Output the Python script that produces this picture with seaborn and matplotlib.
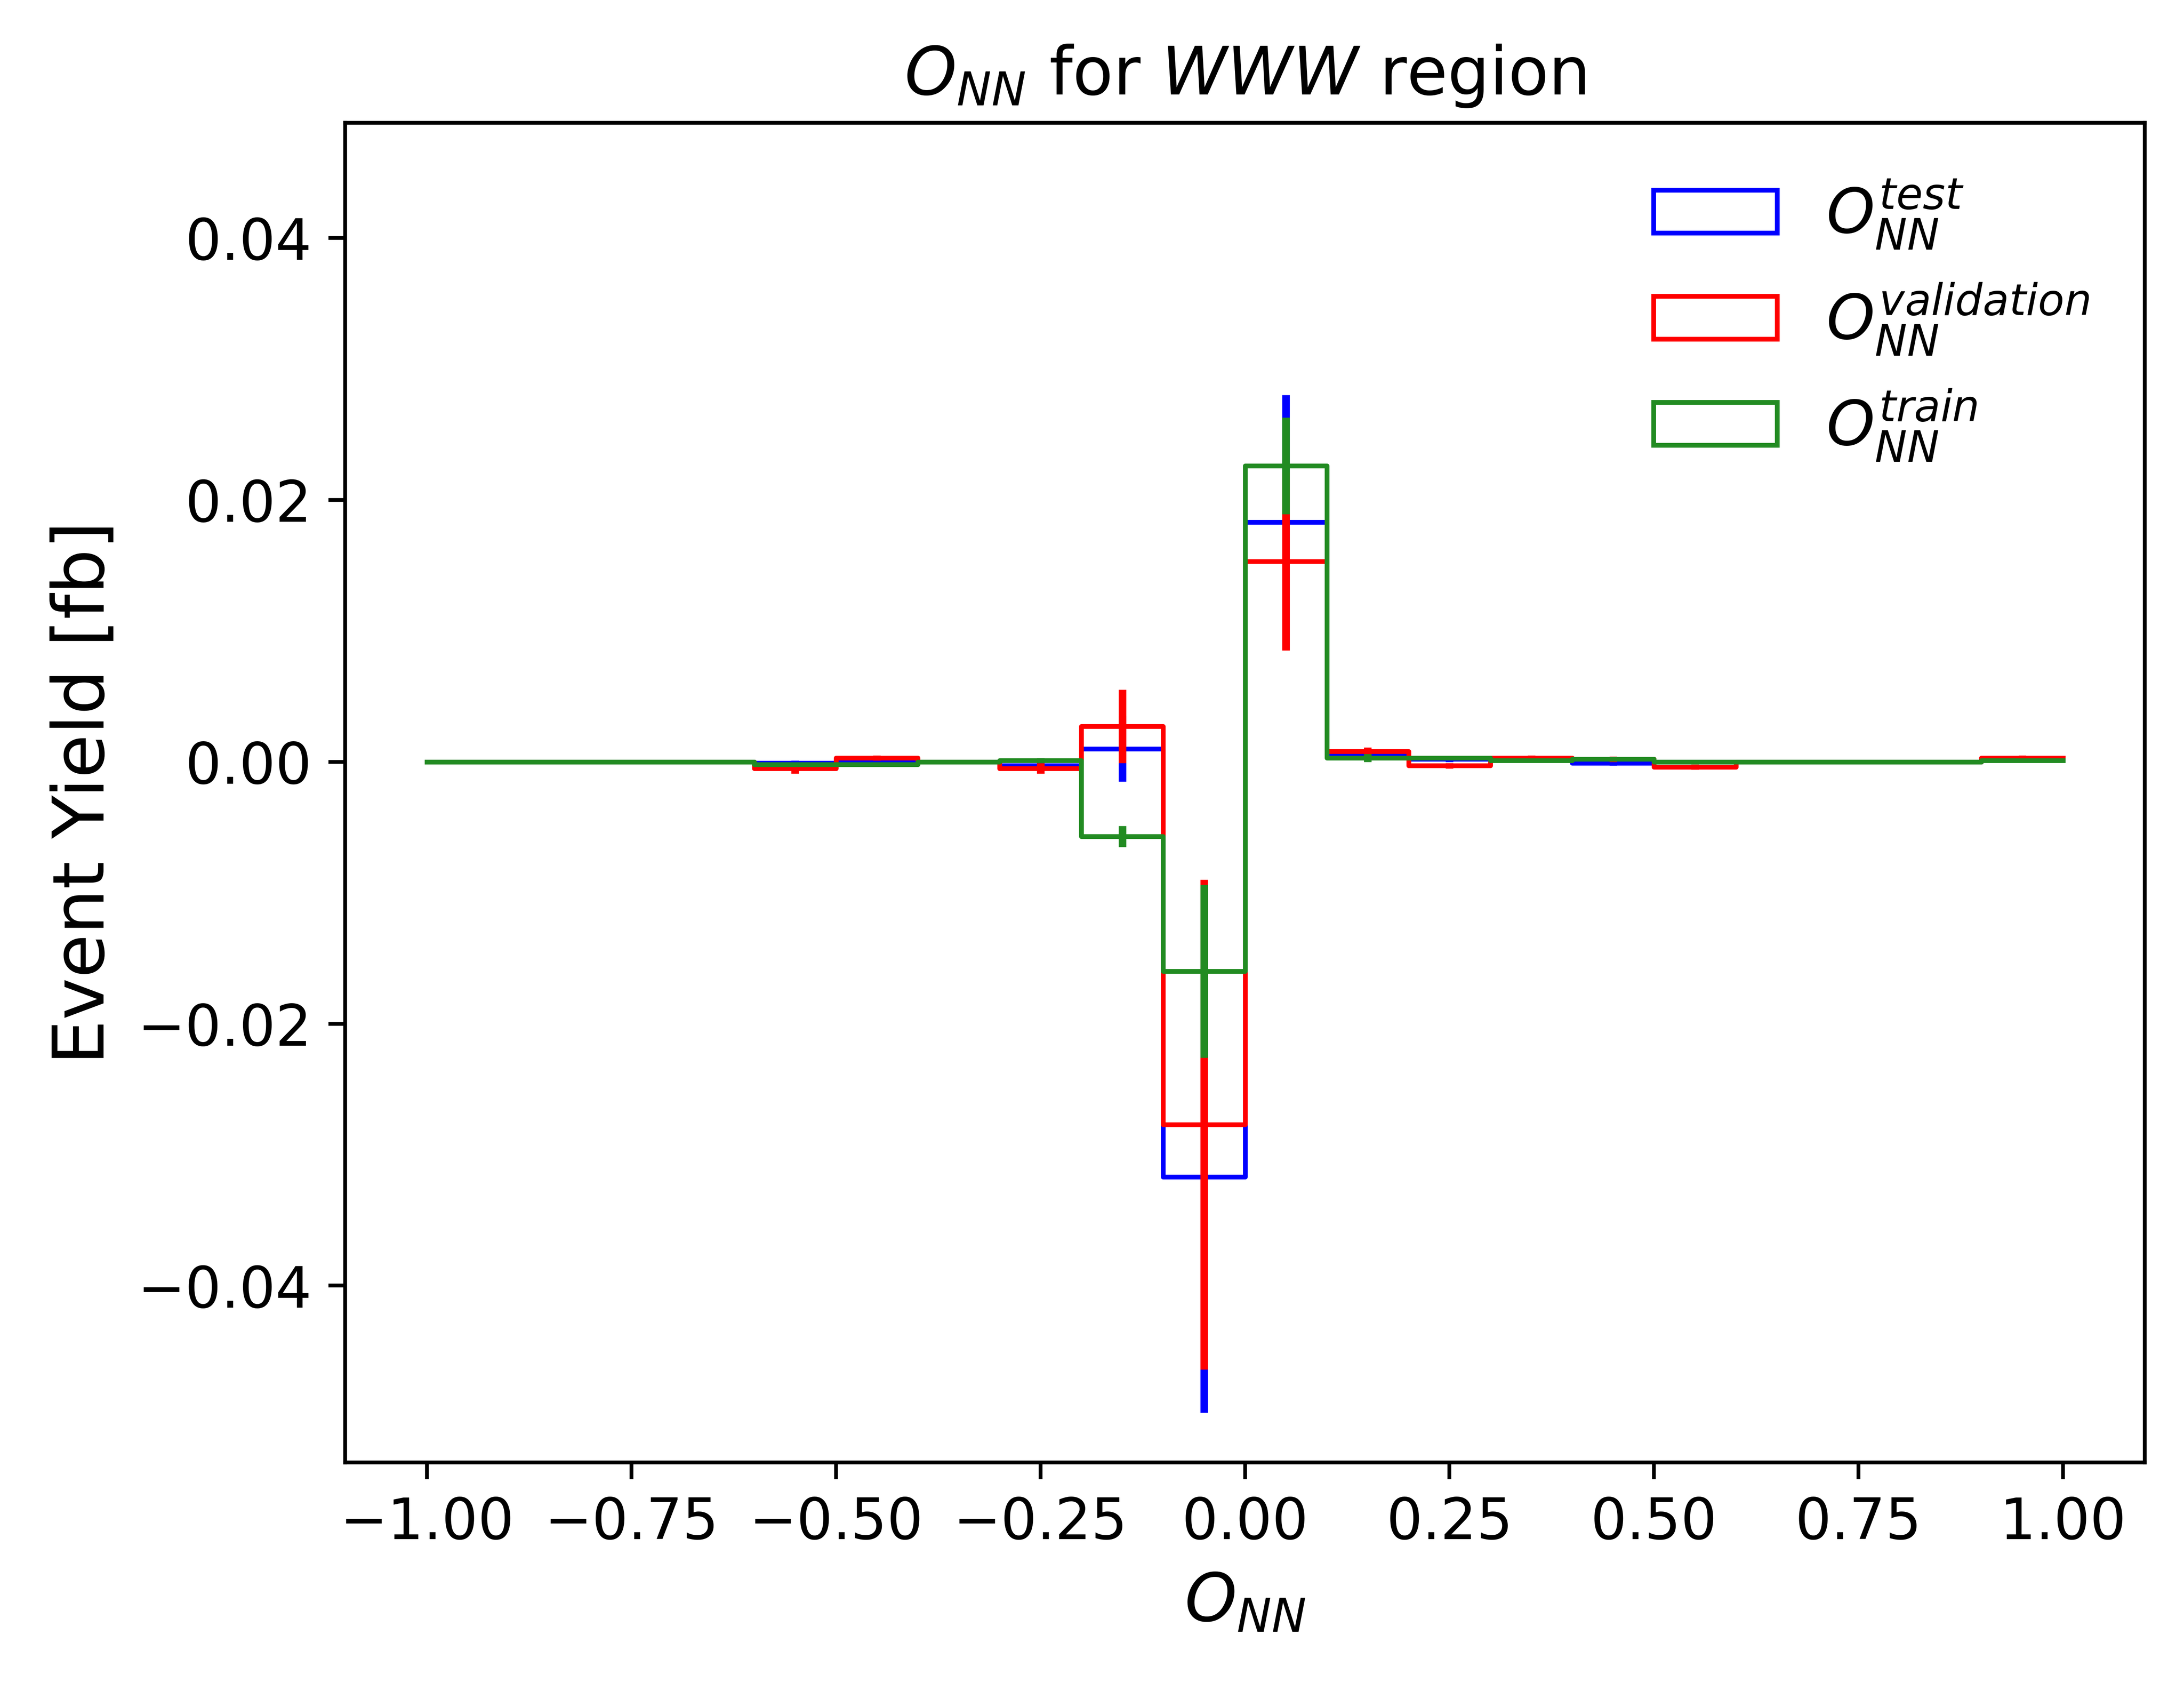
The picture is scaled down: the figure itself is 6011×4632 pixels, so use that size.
import numpy as np
import pandas as pd
import matplotlib
matplotlib.use("Agg")
import matplotlib.pyplot as plt
import seaborn as sns
from matplotlib.patches import Patch

bin_edges = [round(-1 + 0.1 * i, 2) for i in range(21)]
centers = np.round(np.array(bin_edges[:-1]) + 0.05, 2)

test_vals = [0, 0, 0, 0, -0.0001, 0, 0, -0.0003, 0.0010, -0.0317,
             0.0183, 0.0005, 0.0002, 0.0002, -0.0001, 0, 0, 0, 0, 0.0002]
test_err = [0.0001, 0.0001, 0.0001, 0.0001, 0.0002, 0.0002, 0.0001, 0.0003, 0.0025, 0.0180,
            0.0097, 0.0003, 0.0002, 0.0002, 0.0002, 0.0001, 0.0001, 0.0001, 0.0001, 0.0002]
val_vals = [0, 0, 0, 0, -0.0005, 0.0003, 0, -0.0005, 0.0027, -0.0277,
            0.0153, 0.0008, -0.0003, 0.0003, 0.0002, -0.0004, 0, 0, 0, 0.0003]
val_err = [0.0001, 0.0001, 0.0001, 0.0001, 0.0004, 0.0002, 0.0001, 0.0004, 0.0028, 0.0187,
           0.0068, 0.0003, 0.0002, 0.0002, 0.0002, 0.0002, 0.0001, 0.0001, 0.0001, 0.0002]
train_vals = [0, 0, 0, 0, -0.0002, -0.0002, 0, 0.0001, -0.0057, -0.0160,
              0.0226, 0.0003, 0.0003, 0.0001, 0.0002, 0, 0, 0, 0, 0.0001]
train_err = [0.0001, 0.0001, 0.0001, 0.0001, 0.0001, 0.0001, 0.0001, 0.0002, 0.0008, 0.0066,
             0.0037, 0.0003, 0.0001, 0.0001, 0.0001, 0.0001, 0.0001, 0.0001, 0.0001, 0.0001]

series = [
    ("test", test_vals, test_err, "blue", r"$O_{NN}^{test}$"),
    ("validation", val_vals, val_err, "red", r"$O_{NN}^{validation}$"),
    ("train", train_vals, train_err, "forestgreen", r"$O_{NN}^{train}$"),
]

fig, ax = plt.subplots(figsize=(6.4, 4.932), dpi=939.3)
fig.subplots_adjust(left=0.158, right=0.982, top=0.927, bottom=0.131)

handles = []
for name, vals, errs, color, label in series:
    df = pd.DataFrame({"x": centers, "w": vals})
    sns.histplot(x=df["x"], weights=df["w"], bins=bin_edges, element="step",
                 fill=False, color=color, linewidth=1.0, ax=ax)
    ax.errorbar(centers, vals, yerr=errs, fmt="none", ecolor=color, elinewidth=1.6)
    handles.append(Patch(facecolor="none", edgecolor=color, label=label))

ax.set_xlim(-1.1, 1.1)
ax.set_ylim(-0.0535, 0.0488)
ax.set_yticks([-0.04, -0.02, 0.0, 0.02, 0.04])
ax.set_xticks(np.linspace(-1, 1, 9))
ax.tick_params(labelsize=12)
ax.set_xlabel(r"$O_{NN}$", fontsize=14)
ax.set_ylabel("Event Yield [fb]", fontsize=15)
ax.set_title(r"$O_{NN}$ for $WWW$ region", fontsize=14)
ax.legend(handles=handles, loc="upper right", frameon=False, fontsize=13,
          handlelength=2.0, labelspacing=0.5)

fig.savefig("out.png")
